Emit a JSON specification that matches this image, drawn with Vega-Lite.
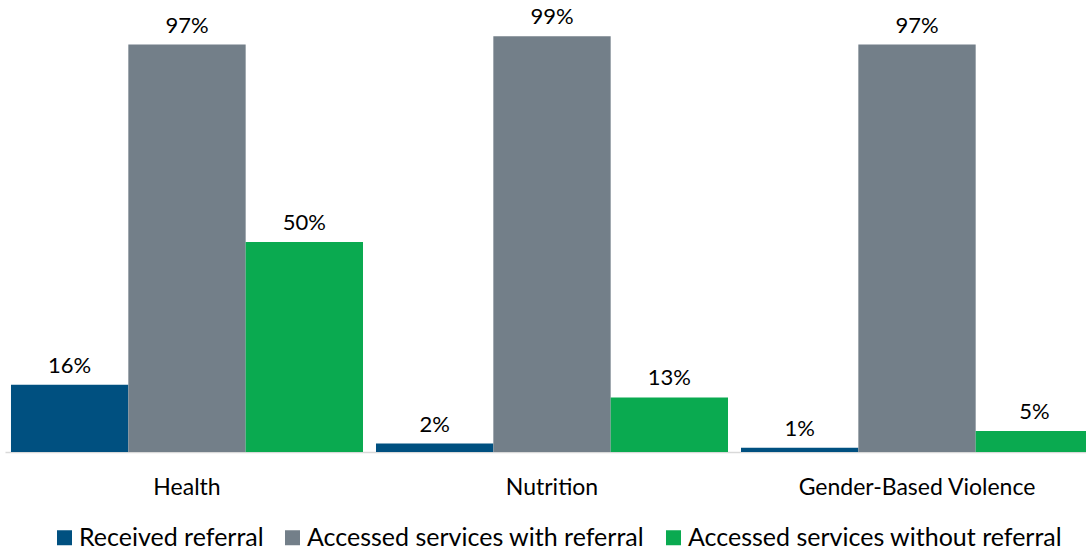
{
  "$schema": "https://vega.github.io/schema/vega-lite/v6.json",
  "width": 1094,
  "height": 420,
  "autosize": {"type": "none"},
  "padding": {"left": 5, "top": 32, "right": 0, "bottom": 98},
  "background": "white",
  "config": {"view": {"stroke": null}, "font": "Lato"},
  "data": {
    "values": [
      {"category": "Health", "series": "Received referral", "value": 0.16},
      {"category": "Health", "series": "Accessed services with referral", "value": 0.97},
      {"category": "Health", "series": "Accessed services without referral", "value": 0.50},
      {"category": "Nutrition", "series": "Received referral", "value": 0.02},
      {"category": "Nutrition", "series": "Accessed services with referral", "value": 0.99},
      {"category": "Nutrition", "series": "Accessed services without referral", "value": 0.13},
      {"category": "Gender-Based Violence", "series": "Received referral", "value": 0.01},
      {"category": "Gender-Based Violence", "series": "Accessed services with referral", "value": 0.97},
      {"category": "Gender-Based Violence", "series": "Accessed services without referral", "value": 0.05}
    ]
  },
  "encoding": {
    "x": {
      "field": "category", "type": "nominal",
      "sort": ["Health", "Nutrition", "Gender-Based Violence"],
      "scale": {"paddingInner": 0.0356, "paddingOuter": 0.0164},
      "axis": {
        "title": null, "labelAngle": 0, "ticks": false,
        "domainColor": "#d9d9d9", "domainWidth": 1.5,
        "labelFontSize": 23, "labelColor": "#000000", "labelPadding": 24,
        "labelFont": "Lato", "labelLimit": 500
      }
    },
    "xOffset": {
      "field": "series", "type": "nominal",
      "sort": ["Received referral", "Accessed services with referral", "Accessed services without referral"],
      "scale": {"paddingInner": 0, "paddingOuter": 0}
    },
    "y": {
      "field": "value", "type": "quantitative",
      "scale": {"domain": [0, 1]},
      "axis": null
    }
  },
  "layer": [
    {
      "mark": {"type": "bar"},
      "encoding": {
        "color": {
          "field": "series", "type": "nominal",
          "sort": ["Received referral", "Accessed services with referral", "Accessed services without referral"],
          "scale": {
            "domain": ["Received referral", "Accessed services with referral", "Accessed services without referral"],
            "range": ["#005080", "#737f89", "#0aaa50"]
          },
          "legend": {
            "title": null, "orient": "none", "direction": "horizontal",
            "legendX": 47, "legendY": 493,
            "symbolType": "square", "symbolSize": 225, "symbolStrokeWidth": 0,
            "labelFontSize": 25, "labelColor": "#000000", "labelFont": "Lato",
            "labelOffset": 2, "columnPadding": 16, "labelLimit": 600
          }
        }
      }
    },
    {
      "mark": {"type": "text", "baseline": "alphabetic", "dy": -12, "fontSize": 22, "color": "#000000", "font": "Lato"},
      "encoding": {
        "text": {"field": "value", "type": "quantitative", "format": ".0%"}
      }
    }
  ]
}
